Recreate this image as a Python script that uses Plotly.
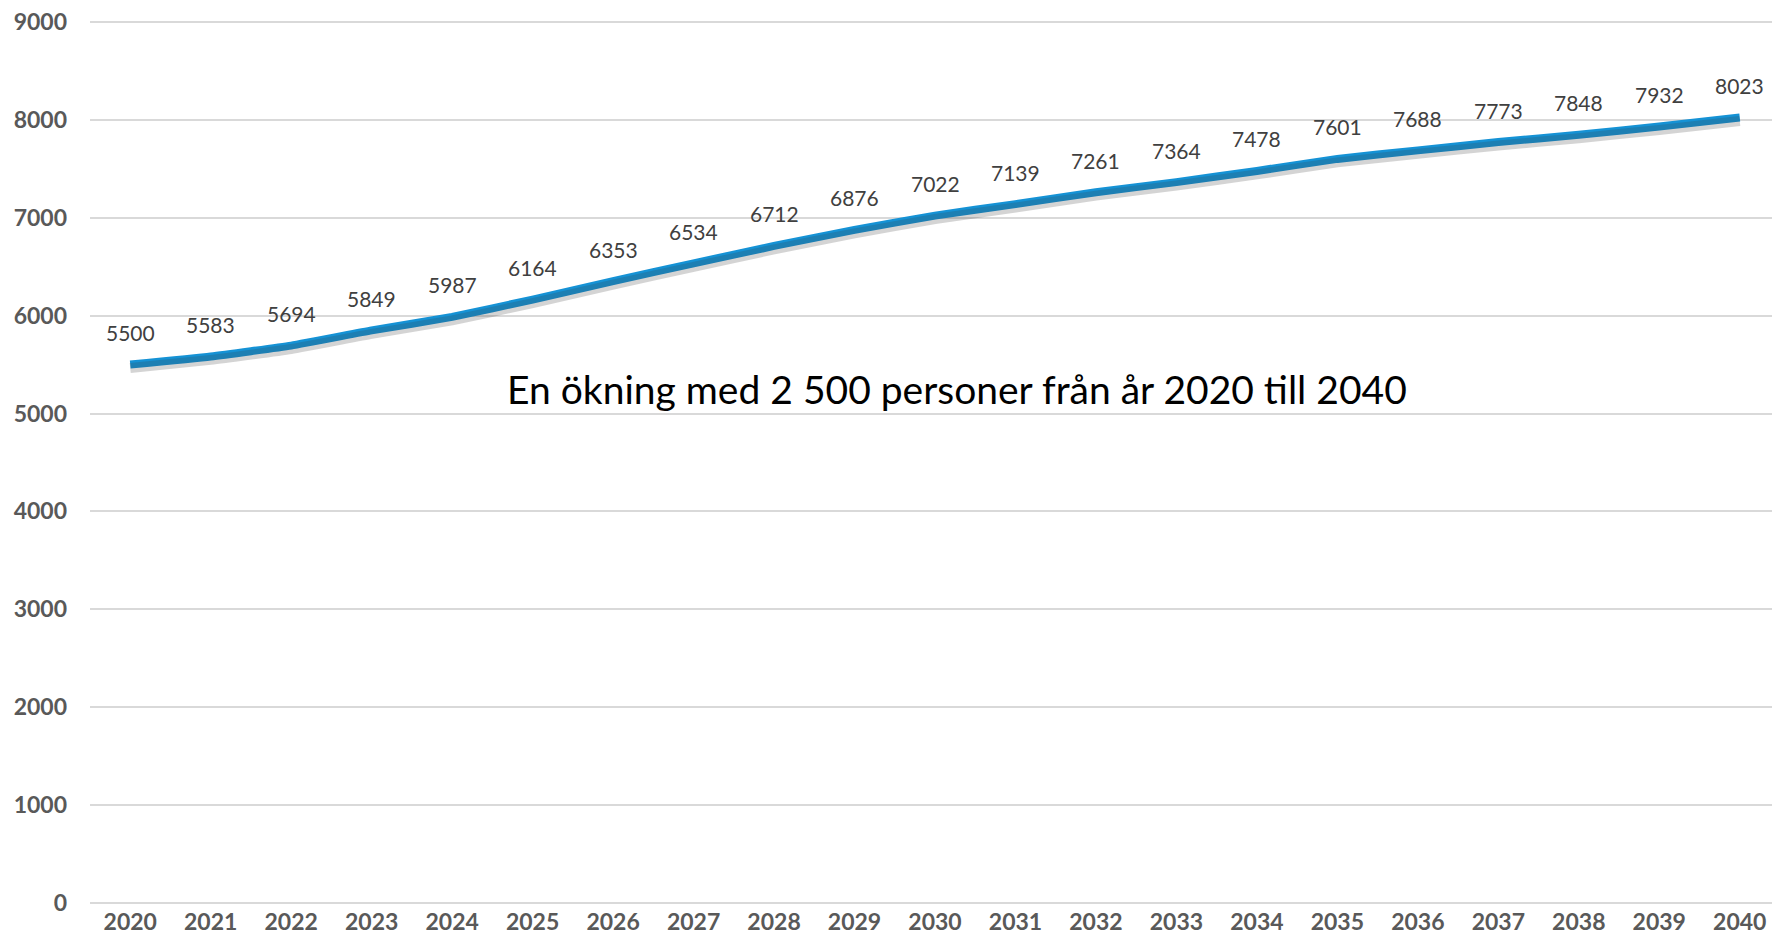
import plotly.graph_objects as go

years = [str(y) for y in range(2020, 2041)]
values = [5500, 5583, 5694, 5849, 5987, 6164, 6353, 6534, 6712, 6876, 7022,
          7139, 7261, 7364, 7478, 7601, 7688, 7773, 7848, 7932, 8023]
y_ticks = [0, 1000, 2000, 3000, 4000, 5000, 6000, 7000, 8000, 9000]
note = "En ökning med 2 500 personer från år 2020 till 2040"

FONT = "Lato, 'Open Sans', sans-serif"
Y_MAX = 9020          # small headroom so the 9000 gridline is drawn
SHADOW_SHIFT = 35     # axis units, shifts shadow a few px down

fig = go.Figure()
# soft drop shadow drawn on an overlay axis with a slightly shifted range
fig.add_trace(go.Scatter(
    x=years, y=values, mode="lines", yaxis="y2",
    line=dict(color="rgba(60,60,60,0.22)", width=10, shape="spline", smoothing=0.4),
    hoverinfo="skip", showlegend=False,
))
fig.add_trace(go.Scatter(
    x=years, y=values, mode="lines",
    line=dict(color="#1592D5", width=8, shape="spline", smoothing=0.4),
    hoverinfo="x+y", showlegend=False,
))

annotations = []
for i, v in enumerate(values):
    annotations.append(dict(
        x=i, y=v, text=str(v), showarrow=False, yshift=32,
        font=dict(family=FONT, size=21, color="#404040"),
    ))
annotations.append(dict(
    xref="paper", x=0.513, y=5250, text=note, showarrow=False,
    font=dict(family=FONT, size=39, color="#000000"),
))

tickfont = dict(family=FONT, size=23, color="#595959", weight="bold")
# the page body has an 8px default margin, so the figure is sized/offset for it
fig.update_layout(
    width=1772, height=930,
    margin=dict(l=82, r=0, t=12, b=35),
    paper_bgcolor="white", plot_bgcolor="white",
    annotations=annotations,
    xaxis=dict(
        type="category", range=[-0.5, 20.5], showgrid=False, zeroline=False,
        showline=False, ticks="", ticklabelstandoff=3, automargin=False,
        tickfont=tickfont,
    ),
    yaxis=dict(
        range=[0, Y_MAX], tickvals=y_ticks, ticktext=[str(t) for t in y_ticks],
        showgrid=True, gridcolor="#D9D9D9", gridwidth=1.5,
        zeroline=True, zerolinecolor="#D9D9D9", zerolinewidth=1.5,
        showline=False, ticks="", ticklabelstandoff=22, automargin=False,
        ticklabeloverflow="allow", tickfont=tickfont,
    ),
    yaxis2=dict(
        overlaying="y", range=[SHADOW_SHIFT, Y_MAX + SHADOW_SHIFT],
        visible=False, showgrid=False, zeroline=False,
    ),
)

fig.write_html("out.html")
